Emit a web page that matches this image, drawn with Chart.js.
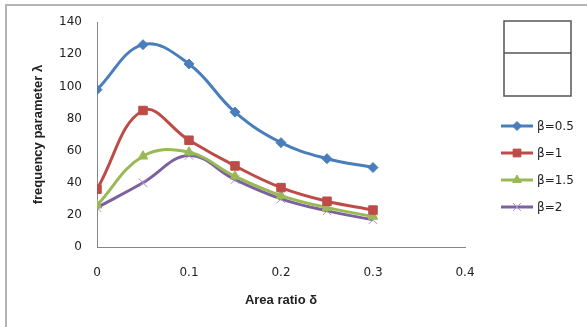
<!DOCTYPE html>
<html>
<head>
<meta charset="utf-8">
<script src="https://cdn.jsdelivr.net/npm/chart.js@4.4.1/dist/chart.umd.min.js"></script>
<style>
  html, body { margin: 0; padding: 0; background: #fff; }
  #wrap { width: 587px; height: 327px; }
</style>
</head>
<body>
<div id="wrap"><canvas id="freqChart" width="587" height="327"></canvas></div>
<script>
// area ratio δ on the x axis
const areaRatio = [0, 0.05, 0.1, 0.15, 0.2, 0.25, 0.3];

// frequency parameter λ for each β
const beta05 = [98, 126, 114, 84, 65, 55, 49.5];
const beta1 = [36, 85, 66.5, 50.5, 37, 28.5, 23];
const beta15 = [26, 56.5, 59, 44, 32, 24.5, 19];
const beta2 = [24.5, 40, 57, 42, 30, 22.5, 17];

const seriesNames = ['β=0.5', 'β=1', 'β=1.5', 'β=2'];
const xTicks = [0, 0.1, 0.2, 0.3, 0.4];

function toPoints(values) {
    return values.map((v, i) => ({ x: areaRatio[i], y: v }));
}

const tickFont = { family: 'DejaVu Sans', size: 12 };
const titleFont = { family: 'Liberation Sans', size: 13, weight: 'bold' };

// frame lines and the empty box above the legend
const framePlugin = {
    id: 'frame',
    afterDraw(chart) {
        const ctx = chart.ctx;
        ctx.save();
        ctx.strokeStyle = '#b4b4b4';
        ctx.lineWidth = 2;
        ctx.beginPath();
        ctx.moveTo(6, 327);
        ctx.lineTo(6, 5);
        ctx.lineTo(587, 5);
        ctx.stroke();

        ctx.strokeStyle = '#555';
        ctx.lineWidth = 1.5;
        ctx.strokeRect(504, 21, 67, 75);
        ctx.beginPath();
        ctx.moveTo(504, 53);
        ctx.lineTo(571, 53);
        ctx.stroke();
        ctx.restore();
    }
};

// legend drawn from the datasets themselves
const sideLegend = {
    id: 'sideLegend',
    afterDraw(chart) {
        const ctx = chart.ctx;
        ctx.save();
        chart.data.datasets.forEach((ds, i) => {
            const y = 126 + i * 27;
            ctx.strokeStyle = ds.borderColor;
            ctx.lineWidth = 3;
            ctx.beginPath();
            ctx.moveTo(501, y);
            ctx.lineTo(533, y);
            ctx.stroke();

            ctx.fillStyle = ds.pointBackgroundColor;
            ctx.strokeStyle = ds.pointBorderColor;
            ctx.lineWidth = ds.pointBorderWidth || 1;
            Chart.helpers.drawPoint(ctx, {
                pointStyle: ds.pointStyle,
                radius: ds.pointRadius - 0.5,
                borderWidth: ds.pointBorderWidth || 1
            }, 517, y);

            ctx.fillStyle = '#222';
            ctx.font = '12px "DejaVu Sans"';
            ctx.textBaseline = 'middle';
            ctx.textAlign = 'left';
            ctx.fillText(ds.label, 537, y + 1);
        });
        ctx.restore();
    }
};

const ctx = document.getElementById('freqChart').getContext('2d');
const freqChart = new Chart(ctx, {
    type: 'line',
    data: {
        datasets: [
            {
                label: seriesNames[0],
                data: toPoints(beta05),
                borderColor: '#4a7ebb',
                pointBackgroundColor: '#4a7ebb',
                pointBorderColor: '#4a7ebb',
                pointStyle: 'rectRot',
                pointRadius: 5
            },
            {
                label: seriesNames[1],
                data: toPoints(beta1),
                borderColor: '#be4b48',
                pointBackgroundColor: '#be4b48',
                pointBorderColor: '#be4b48',
                pointStyle: 'rect',
                pointRadius: 6
            },
            {
                label: seriesNames[2],
                data: toPoints(beta15),
                borderColor: '#98b954',
                pointBackgroundColor: '#98b954',
                pointBorderColor: '#98b954',
                pointStyle: 'triangle',
                pointRadius: 5.5
            },
            {
                label: seriesNames[3],
                data: toPoints(beta2),
                borderColor: '#7d60a0',
                pointBackgroundColor: '#7d60a0',
                pointBorderColor: '#a58fc4',
                pointStyle: 'crossRot',
                pointRadius: 6,
                pointBorderWidth: 1
            }
        ]
    },
    options: {
        responsive: false,
        animation: false,
        elements: {
            line: { borderWidth: 3, tension: 0.4, cubicInterpolationMode: 'default' },
            point: { borderWidth: 1 }
        },
        layout: { padding: { left: 6, top: 21, right: 122, bottom: 5 } },
        plugins: {
            legend: { display: false },
            tooltip: { enabled: false }
        },
        scales: {
            x: {
                type: 'linear',
                min: 0,
                max: 0.4,
                afterFit(scale) { scale.height = 75; },
                afterBuildTicks(scale) { scale.ticks = xTicks.map(v => ({ value: v })); },
                grid: { display: false, drawTicks: false },
                border: { color: '#868686', width: 1 },
                ticks: {
                    font: tickFont,
                    color: '#222',
                    padding: 19,
                    maxRotation: 0,
                    callback: v => String(v)
                },
                title: {
                    display: true,
                    text: 'Area ratio δ',
                    font: titleFont,
                    color: '#222',
                    padding: { top: 0, bottom: 14 }
                }
            },
            y: {
                min: 0,
                max: 140,
                afterFit(scale) { scale.width = 91; },
                grid: { display: false, drawTicks: false },
                border: { color: '#868686', width: 1 },
                ticks: {
                    stepSize: 20,
                    font: tickFont,
                    color: '#222',
                    padding: 15
                },
                title: {
                    display: true,
                    text: 'frequency parameter λ',
                    font: titleFont,
                    color: '#222',
                    padding: { top: 25, bottom: 0 }
                }
            }
        }
    },
    plugins: [framePlugin, sideLegend]
});
</script>
</body>
</html>
